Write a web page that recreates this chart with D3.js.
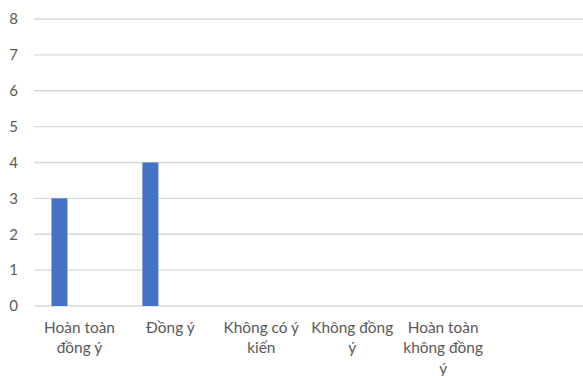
<!DOCTYPE html>
<html>
<head>
<meta charset="utf-8">
<script src="https://cdn.jsdelivr.net/npm/d3@7"></script>
<style>
  html, body { margin: 0; padding: 0; background: #fff; }
  svg text { font-family: Lato, "Open Sans", sans-serif; fill: #595959; }
</style>
</head>
<body>
<svg id="chart" width="583" height="376"></svg>
<script>
// Response categories and counts
const categories = ["Hoàn toàn đồng ý", "Đồng ý", "Không có ý kiến", "Không đồng ý", "Hoàn toàn không đồng ý", ""];
const counts = [3, 4, 0, 0, 0, null];
const yTicks = [0, 1, 2, 3, 4, 5, 6, 7, 8];

const svg = d3.select("#chart");
const margin = { left: 34, right: 3.5, top: 19, bottom: 70 };
const W = 583, H = 376;

const x = d3.scaleBand()
  .domain(categories.map((c, i) => i))
  .range([margin.left, W - margin.right])
  .padding(0);

const y = d3.scaleLinear()
  .domain([0, 8])
  .range([H - margin.bottom, margin.top]);

// Horizontal gridlines
svg.append("g")
  .selectAll("line")
  .data(yTicks)
  .join("line")
  .attr("x1", margin.left)
  .attr("x2", W)
  .attr("y1", d => y(d))
  .attr("y2", d => y(d))
  .attr("stroke", "#d9d9d9")
  .attr("stroke-width", 1.3);

// Y axis labels
const yAxis = d3.axisLeft(y).tickValues(yTicks).tickSize(0).tickPadding(16);
const gy = svg.append("g")
  .attr("transform", `translate(${margin.left},0)`)
  .call(yAxis);
gy.select(".domain").remove();
gy.selectAll("text")
  .style("font-size", "15px")
  .style("font-family", "Lato, 'Open Sans', sans-serif")
  .attr("fill", "#595959");

// Bars
const bw = x.bandwidth();
svg.append("g")
  .selectAll("rect")
  .data(counts.map((v, i) => ({ i, v })).filter(d => d.v))
  .join("rect")
  .attr("x", d => x(d.i) + bw * 0.192)
  .attr("width", bw * 0.176)
  .attr("y", d => y(d.v))
  .attr("height", d => y(0) - y(d.v))
  .attr("fill", "#4472c4");

// Category labels with word wrapping
function wrap(textSel, width) {
  textSel.each(function() {
    const text = d3.select(this);
    const words = text.text().split(/\s+/).filter(Boolean);
    text.text(null);
    const cx = +text.attr("x");
    let line = [];
    let tspan = text.append("tspan").attr("x", cx).attr("dy", 0);
    words.forEach(w => {
      line.push(w);
      tspan.text(line.join(" "));
      if (tspan.node().getComputedTextLength() > width && line.length > 1) {
        line.pop();
        tspan.text(line.join(" "));
        line = [w];
        tspan = text.append("tspan").attr("x", cx).attr("dy", "1.33em").text(w);
      }
    });
  });
}

svg.append("g")
  .selectAll("text")
  .data(categories)
  .join("text")
  .attr("x", (d, i) => x(i) + bw / 2)
  .attr("y", H - margin.bottom + 27)
  .attr("text-anchor", "middle")
  .style("font-size", "15.4px")
  .text(d => d)
  .call(wrap, 86);
</script>
</body>
</html>
